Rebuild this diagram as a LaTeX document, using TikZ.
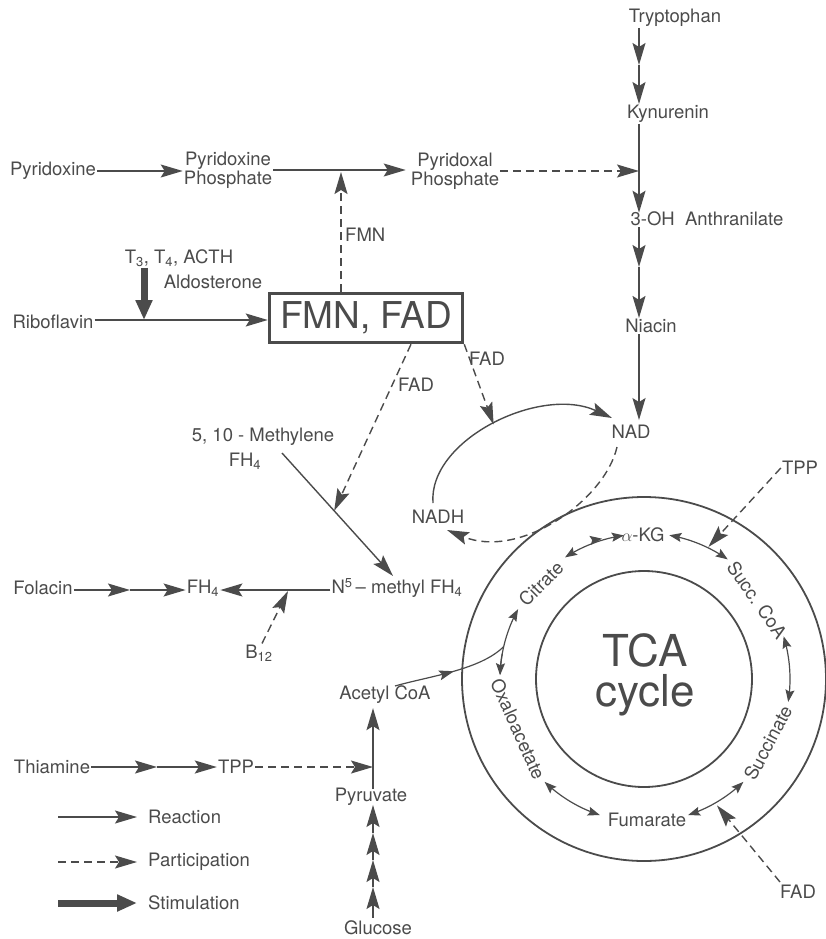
\documentclass[tikz,border=0pt]{standalone}
\usepackage{fontspec}
\setmainfont{TeX Gyre Heros}
\usetikzlibrary{arrows.meta,decorations.markings}
\definecolor{ink}{RGB}{75,75,75}
\tikzset{
  lbl/.style={font=\fontsize{18.5}{20}\selectfont, text=ink, inner sep=1pt},
  rx/.style={draw=ink, line width=1.4pt, -{Stealth[length=22pt,width=13pt,inset=4pt]}},
  px/.style={rx, dash pattern=on 8pt off 5pt},
  stim/.style={draw=ink, line width=7pt, -{Triangle[length=20pt,width=16pt]}},
  rr/.style={draw=ink, line width=1.2pt, {Stealth[length=12pt,width=9pt,inset=2pt]}-{Stealth[length=12pt,width=9pt,inset=2pt]}},
  ring/.style={draw=ink, line width=1.8pt},
  bigbox/.style={draw=ink, line width=3.5pt, minimum width=193pt, minimum height=49pt, inner sep=0pt, text=ink, font=\fontsize{37}{40}\selectfont},
  midhead/.style={postaction={decorate}, decoration={markings, mark=at position #1 with {\arrow{Stealth[length=15pt,width=10pt,inset=3pt]}}}}
}
\begin{document}
\begin{tikzpicture}[x=1pt,y=-1pt]
\useasboundingbox (0,0) rectangle (826,939);
% ---------- right column ----------
\coordinate (colx) at (639,0);
\node[lbl] (tryp) at (675,18) {Tryptophan};
\node[lbl] (kyn) at (668,114) {Kynurenin};
\node[lbl] (oh) at (707,219) {3-OH\ \ Anthranilate};
\node[lbl] (nia) at (651,326) {Niacin};
\node[lbl] (nad) at (631,432) {NAD};
\coordinate (t1) at (639,65);
\coordinate (t2) at (639,267);
\draw[rx] (tryp.south -| colx) -- (t1);
\draw[rx] (t1) -- (kyn.north -| colx);
\draw[rx] (kyn.south -| colx) -- ([yshift=-2pt]oh.north -| colx);
\draw[rx] (oh.south -| colx) -- (t2);
\draw[rx] (t2) -- (nia.north -| colx);
\draw[rx] (nia.south -| colx) -- ([yshift=4pt]nad.north -| colx);
% ---------- top row ----------
\node[lbl] (pyx) at (53,171) {Pyridoxine};
\node[lbl,align=center] (pyxp) at (228,170) {Pyridoxine\\[-1pt]Phosphate};
\node[lbl,align=center] (pyl) at (455,171) {Pyridoxal\\[-1pt]Phosphate};
\draw[rx] (pyx) -- (pyx -| pyxp.west);
\draw[rx] (pyxp) -- ([xshift=-4pt]pyxp -| pyl.west);
\draw[px] (pyl.east) -- (pyl.east -| colx);
% ---------- riboflavin row ----------
\node[lbl] (rib) at (53,322) {Riboflavin};
\node[bigbox] (box) at (366,318) {FMN, FAD};
\node[lbl] (horm) at (179,258) {T\textsubscript{3}, T\textsubscript{4}, ACTH};
\node[lbl] (aldo) at (213,282) {Aldosterone};
\coordinate (stimhit) at (144,320);
\coordinate (fmnhit) at (341,172);
\draw[rx] (rib.east |- stimhit) -- (box.west |- stimhit);
\draw[stim] (horm.south -| stimhit) -- (stimhit);
\draw[px] (box.north -| fmnhit) -- (fmnhit);
\node[lbl,anchor=west] (fmnl) at (344,235) {FMN};
% ---------- folate ----------
\node[lbl] (meth) at (263,437) {5, 10 - Methylene};
\node[lbl] (methfh) at (245,461) {FH\textsubscript{4}};
\node[lbl] (n5) at (397,588) {N\textsuperscript{5}\,-- methyl FH\textsubscript{4}};
\coordinate (ms) at (282,453);
\coordinate (me) at (393,576);
\path (ms) -- (me) coordinate[pos=0.47] (mhit);
\draw[rx] (ms) -- (me);
\draw[px] ([xshift=45pt]box.south) -- (mhit);
\node[lbl] (fad1) at (416,385) {FAD};
\node[lbl] (fol) at (43,588) {Folacin};
\node[lbl] (fh4) at (203,588) {FH\textsubscript{4}};
\coordinate (f1) at (130,590);
\draw[rx] (fol.east |- f1) -- (f1);
\draw[rx] (f1) -- (fh4.west |- f1);
\draw[rx] (n5.west |- f1) -- (fh4.east |- f1);
\node[lbl] (b12) at (259,653) {B\textsubscript{12}};
\coordinate (b12hit) at (288,591);
\draw[px] ([xshift=3pt]b12.north) -- (b12hit);
% ---------- NAD / NADH ----------
\node[lbl] (nadh) at (438,517) {NADH};
\draw[rx] (433,503) .. controls (428,440) and (540,385) .. (612,418) coordinate[pos=0.5] (nadhit);
\draw[px] (617,447) .. controls (605,500) and (520,560) .. (447,530);
\draw[px] (box.south east) -- (nadhit);
\node[lbl] (fad2) at (487,359) {FAD};
% ---------- TCA ----------
\coordinate (O) at (644,679);
\draw[ring] (O) circle[radius=182];
\draw[ring] (O) circle[radius=108];
\node[text=ink, font=\fontsize{44}{46}\selectfont, align=center, inner sep=0pt] (tca) at (645,675) {TCA\\[-6pt]cycle};
\node[lbl] (akg) at (643,535) {$\alpha$-KG};
\node[lbl,rotate=-55] (scoa) at (757,600) {Succ. CoA};
\node[lbl,rotate=62] (succ) at (768,743) {Succinate};
\node[lbl] (fum) at (647,820) {Fumarate};
\node[lbl,rotate=-66] (oxa) at (518,729) {Oxaloacetate};
\node[lbl,rotate=45] (cit) at (541,584) {Citrate};
\draw[draw=ink, line width=1.2pt, {Stealth[length=12pt,width=9pt,inset=2pt]}-{Stealth[length=12pt,width=9pt,inset=2pt,sep=10pt]Stealth[length=12pt,width=9pt,inset=2pt]}]
  plot[domain=123:98, samples=30] ({644+145*cos(\x)},{679-145*sin(\x)});
\draw[rr] plot[domain=80:55, samples=30] ({644+146*cos(\x)},{679-146*sin(\x)});
\draw[rr] plot[domain=17:-9, samples=30] ({644+146*cos(\x)},{679-146*sin(\x)});
\draw[rr] plot[domain=-46:-72, samples=30] ({644+143*cos(\x)},{679-143*sin(\x)});
\draw[rr] plot[domain=-108:-134, samples=30] ({644+143*cos(\x)},{679-143*sin(\x)});
\draw[draw=ink, line width=1.2pt, -{Stealth[length=12pt,width=9pt,inset=2pt]}]
  plot[domain=178:151, samples=30] ({644+144*cos(\x)},{679-144*sin(\x)});
\draw[draw=ink, line width=1.2pt, -{Stealth[length=12pt,width=9pt,inset=2pt]}]
  plot[domain=170:178.5, samples=10] ({644+144*cos(\x)},{679-144*sin(\x)});
\coordinate (tpphit) at ({644+147*cos(64)},{679-147*sin(64)});
\coordinate (fadhit) at ({644+146*cos(-60)},{679-146*sin(-60)});
\coordinate (acjoin) at ({644+144*cos(167)},{679-144*sin(167)});
\node[lbl] (tppr) at (800,468) {TPP};
\node[lbl] (fadr) at (798,892) {FAD};
\draw[px] (tppr.west) -- (tpphit);
\draw[px] ([shift={(-18,-10)}]fadr.center) -- (fadhit);
% ---------- acetyl / pyruvate ----------
\node[lbl] (acoa) at (385,695) {Acetyl CoA};
\node[lbl] (pyr) at (371,797) {Pyruvate};
\node[lbl] (glu) at (378,928) {Glucose};
\node[lbl] (thi) at (52,767) {Thiamine};
\node[lbl] (tpp) at (236,767) {TPP};
\coordinate (pl) at (373,0);
\draw[draw=ink, line width=1.2pt, midhead=0.52] ([shift={(10,-9)}]acoa.center) .. controls (430,676) and (480,670) .. (acjoin);
\draw[rx] ([yshift=-2pt]pyr.north -| pl) -- ([yshift=-3pt]acoa.south -| pl);
\draw[px] (tpp.east) -- (tpp.east -| pl);
\coordinate (th1) at (157,767);
\draw[rx] (thi.east |- th1) -- (th1);
\draw[rx] (th1) -- (tpp.west |- th1);
\coordinate (g1) at (373,887);
\coordinate (g2) at (373,860);
\coordinate (g3) at (373,833);
\draw[rx] ([yshift=2pt]glu.north -| pl) -- (g1);
\draw[rx] (g1) -- (g2);
\draw[rx] (g2) -- (g3);
\draw[rx] (g3) -- ([yshift=2pt]pyr.south -| pl);
% ---------- legend ----------
\node[lbl,anchor=west] (lreac) at (147,817) {Reaction};
\node[lbl,anchor=west] (lpart) at (147,862) {Participation};
\node[lbl,anchor=west] (lstim) at (147,903) {Stimulation};
\coordinate (la) at (58,817);
\coordinate (lb) at (58,862);
\coordinate (lc) at (58,903);
\draw[rx] (la) -- ([xshift=-10pt]lreac.west);
\draw[px] (lb) -- ([xshift=-10pt]lpart.west);
\draw[stim] (lc) -- ([xshift=-10pt]lstim.west);
\end{tikzpicture}
\end{document}
